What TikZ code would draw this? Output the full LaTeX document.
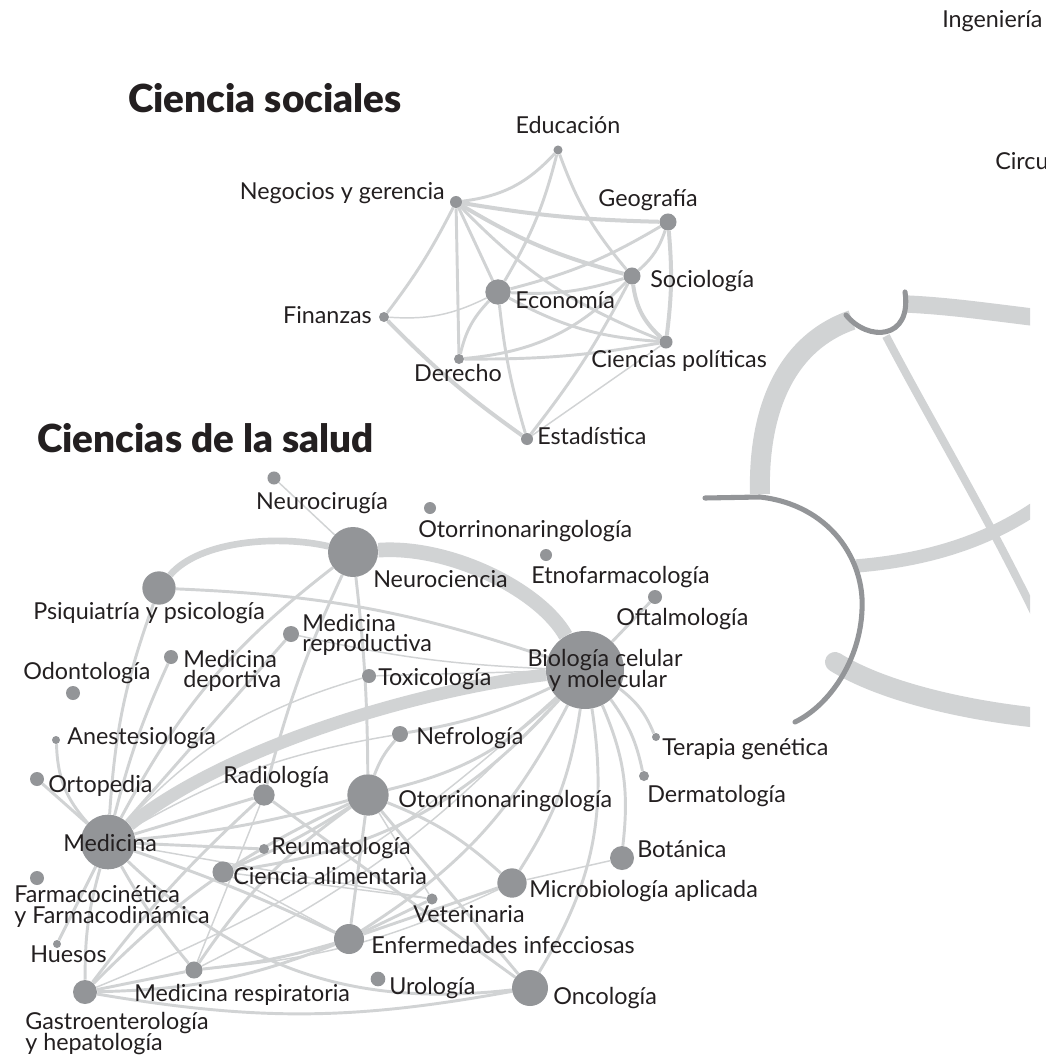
\documentclass[tikz,border=0pt]{standalone}
\usepackage{fontspec}
\setmainfont{Lato}
\newfontfamily\heavyfont{Lato Black}
\usetikzlibrary{backgrounds}
\definecolor{vtxgray}{HTML}{939598}
\definecolor{lnkgray}{HTML}{D1D3D4}
\definecolor{ink}{HTML}{231F20}
\tikzset{
  vtx/.style={circle,fill=vtxgray,inner sep=0pt,minimum size=#1},
  lnk/.style={draw=lnkgray,line width=2.2pt},
  thinlnk/.style={draw=lnkgray,line width=1.1pt},
  band/.style={draw=lnkgray,line width=#1},
  rimarc/.style={draw=vtxgray,line width=3.8pt,line cap=round},
  lbl/.style={font=\fontsize{17.5}{17.5}\selectfont,text=ink,inner sep=0pt},
  ttl/.style={font=\fontsize{29}{29}\selectfont\heavyfont,text=ink,inner sep=0pt},
}

\begin{document}
\begin{tikzpicture}[x=0.75pt,y=-0.75pt]
  \useasboundingbox (0,0) rectangle (1045,1059);
  \clip (0,0) rectangle (1045,1059);

  % titles
  \node[ttl,anchor=base west] (tSoc) at (128,113) {Ciencia sociales};
  \node[ttl,anchor=base west] (tSalud) at (37,452) {Ciencias de la salud};

  % social sciences
  \node[vtx=6.8pt] (edu) at (558,150) {};
  \node[vtx=9pt] (neg) at (456,202) {};
  \node[vtx=12.8pt] (geo) at (668,222) {};
  \node[vtx=12.8pt] (soc) at (632,276) {};
  \node[vtx=19pt] (eco) at (498,292) {};
  \node[vtx=7.5pt] (fin) at (384,317) {};
  \node[vtx=7.5pt] (der) at (459,359) {};
  \node[vtx=9.8pt] (cp) at (666,342) {};
  \node[vtx=9pt] (est) at (527,439) {};

  % health sciences
  \node[vtx=9.8pt] (neurocir) at (274,478) {};
  \node[vtx=37.5pt] (neuro) at (353,552) {};
  \node[vtx=25pt] (psiq) at (159,588) {};
  \node[vtx=9pt] (otoA) at (430,508) {};
  \node[vtx=9pt] (etno) at (546,555) {};
  \node[vtx=10.5pt] (oftal) at (655,597) {};
  \node[vtx=12pt] (medrep) at (291,634) {};
  \node[vtx=10.5pt] (meddep) at (171,657) {};
  \node[vtx=10.5pt] (odonto) at (73,693) {};
  \node[vtx=10.5pt] (tox) at (369,676) {};
  \node[vtx=58.5pt] (bio) at (585,670) {};
  \node[vtx=6pt] (anest) at (56,740) {};
  \node[vtx=12pt] (nefro) at (400,734) {};
  \node[vtx=6pt] (terapia) at (656,737) {};
  \node[vtx=10.5pt] (orto) at (37,779) {};
  \node[vtx=16pt] (radio) at (264,795) {};
  \node[vtx=31pt] (otorrino) at (368,795) {};
  \node[vtx=7.5pt] (derma) at (644,776) {};
  \node[vtx=41pt] (medicina) at (108,842) {};
  \node[vtx=7.5pt] (reuma) at (264,849) {};
  \node[vtx=18pt] (botanica) at (622,858) {};
  \node[vtx=15.8pt] (cienciaal) at (223,872) {};
  \node[vtx=10.5pt] (farmaco) at (37,878) {};
  \node[vtx=22pt] (microbio) at (512,883) {};
  \node[vtx=8.3pt] (veter) at (432,899) {};
  \node[vtx=22.5pt] (enferm) at (349,939) {};
  \node[vtx=6pt] (huesos) at (57,944) {};
  \node[vtx=12.8pt] (medresp) at (194,970) {};
  \node[vtx=11pt] (urolog) at (378,979) {};
  \node[vtx=18pt] (gastro) at (85,992) {};
  \node[vtx=27pt] (onco) at (530,988) {};

  \begin{pgfonlayer}{background}
    % social links
    \draw[lnk] (neg) to[bend right=20] (edu);
    \draw[lnk,line width=3pt] (neg) to[bend right=4] (geo);
    \draw[lnk,line width=3pt] (neg) to[bend right=8] (soc);
    \draw[lnk] (neg) to[bend right=12] (cp);
    \draw[lnk] (neg) -- (eco);
    \draw[lnk] (neg) -- (der);
    \draw[lnk] (neg) to[bend left=5] (fin);
    \draw[lnk] (edu) to[bend left=8] (eco);
    \draw[lnk] (edu) to[bend right=10] (soc);
    \draw[lnk] (geo) to[bend left=8] (eco);
    \draw[lnk] (geo) to[bend left=15] (soc);
    \draw[lnk,line width=3pt] (geo) to[bend left=6] (cp);
    \draw[lnk] (soc) to[bend left=10] (eco);
    \draw[lnk,line width=3pt] (soc) to[bend right=20] (cp);
    \draw[lnk] (soc) to[bend left=20] (der);
    \draw[lnk] (soc) to[bend left=5] (est);
    \draw[thinlnk] (eco) to[bend left=15] (fin);
    \draw[lnk] (eco) to[bend right=15] (der);
    \draw[lnk] (eco) to[bend right=5] (est);
    \draw[lnk] (eco) to[bend right=12] (cp);
    \draw[lnk,line width=3pt] (fin) to[bend right=5] (est);
    \draw[lnk] (der) to[bend right=5] (cp);
    \draw[thinlnk] (cp) -- (est);

    % health links
    \draw[band=9.5pt] (medicina) .. controls (230,745) and (420,690) .. (bio);
    \draw[band=11pt] (neuro) .. controls (450,545) and (540,590) .. (bio);
    \draw[band=5pt] (psiq) .. controls (200,540) and (280,535) .. (neuro);
    \draw[thinlnk] (neurocir) -- (neuro);
    \draw[lnk] (psiq) to[bend left=8] (bio);
    \draw[lnk] (psiq) to[bend right=8] (medicina);
    \draw[lnk] (neuro) to[bend right=12] (medicina);
    \draw[lnk] (neuro) to[bend right=5] (radio);
    \draw[lnk] (neuro) to[bend left=3] (otorrino);
    \draw[lnk] (meddep) to[bend right=5] (medicina);
    \draw[lnk] (medrep) -- (medicina);
    \draw[thinlnk] (medrep) to[bend right=5] (bio);
    \draw[lnk] (anest) to[bend right=20] (medicina);
    \draw[lnk] (orto) -- (medicina);
    \draw[thinlnk] (tox) to[bend right=15] (medicina);
    \draw[thinlnk] (tox) -- (bio);
    \draw[thinlnk] (nefro) to[bend right=10] (medicina);
    \draw[lnk] (nefro) to[bend right=8] (bio);
    \draw[lnk] (otorrino) to[bend left=10] (nefro);
    \draw[lnk] (radio) -- (medicina);
    \draw[lnk] (otorrino) to[bend left=5] (medicina);
    \draw[lnk] (reuma) -- (medicina);
    \draw[lnk] (huesos) -- (medicina);
    \draw[lnk] (gastro) to[bend left=8] (medicina);
    \draw[lnk] (medresp) to[bend left=5] (medicina);
    \draw[lnk] (medicina) to[bend left=3] (enferm);
    \draw[lnk] (medicina) to[bend right=25] (onco);
    \draw[thinlnk] (medicina) -- (veter);
    \draw[lnk] (bio) -- (oftal);
    \draw[lnk] (bio) to[bend left=15] (terapia);
    \draw[lnk] (bio) to[bend left=12] (derma);
    \draw[lnk] (bio) to[bend left=15] (botanica);
    \draw[lnk] (bio) to[bend left=20] (onco);
    \draw[lnk] (bio) to[bend left=12] (microbio);
    \draw[lnk] (bio) to[bend left=15] (enferm);
    \draw[lnk] (bio) to[bend left=20] (cienciaal);
    \draw[lnk] (bio) to[bend left=15] (otorrino);
    \draw[thinlnk] (bio) to[bend left=10] (medresp);
    \draw[thinlnk] (bio) to[bend left=10] (gastro);
    \draw[lnk] (radio) -- (onco);
    \draw[lnk] (radio) to[bend right=5] (gastro);
    \draw[thinlnk] (radio) -- (medresp);
    \draw[lnk] (otorrino) to[bend left=5] (cienciaal);
    \draw[lnk] (otorrino) -- (enferm);
    \draw[lnk] (otorrino) to[bend right=10] (medresp);
    \draw[lnk] (otorrino) to[bend right=10] (gastro);
    \draw[lnk] (otorrino) to[bend left=10] (microbio);
    \draw[lnk] (otorrino) -- (onco);
    \draw[thinlnk] (otorrino) -- (veter);
    \draw[lnk] (enferm) -- (microbio);
    \draw[lnk] (enferm) -- (veter);
    \draw[thinlnk] (enferm) -- (cienciaal);
    \draw[lnk] (enferm) to[bend left=10] (gastro);
    \draw[thinlnk] (microbio) -- (botanica);
    \draw[lnk] (medresp) -- (gastro);
    \draw[lnk] (medresp) to[bend right=5] (enferm);
    \draw[thinlnk] (medresp) to[bend right=10] (microbio);
    \draw[lnk] (gastro) to[bend right=10] (onco);
    \draw[thinlnk] (cienciaal) -- (veter);
  \end{pgfonlayer}

  % social labels
  \node[lbl,anchor=base] (tEdu) at (568,134) {Educación};
  \node[lbl,anchor=base east] (tNeg) at (445,200) {Negocios y gerencia};
  \node[lbl,anchor=base] (tGeo) at (648,207) {Geografía};
  \node[lbl,anchor=base west] (tSocio) at (650,287) {Sociología};
  \node[lbl,anchor=base west] (tEco) at (515,308) {Economía};
  \node[lbl,anchor=base east] (tFin) at (372,323) {Finanzas};
  \node[lbl,anchor=base] (tDer) at (458,381) {Derecho};
  \node[lbl,anchor=base west] (tCP) at (591,367) {Ciencias políticas};
  \node[lbl,anchor=base west] (tEst) at (537,444) {Estadística};
  \node[lbl,anchor=base west] (tIng) at (942,28) {Ingeniería};
  \node[lbl,anchor=base west] (tCirc) at (995,170) {Circuitos};

  % health labels
  \node[lbl,anchor=base] (tNeurocir) at (322,509) {Neurocirugía};
  \node[lbl,anchor=base west] (tPsiq) at (33,619) {Psiquiatría y psicología};
  \node[lbl,anchor=base west] (tOtoA) at (418,537) {Otorrinonaringología};
  \node[lbl,anchor=base west] (tNeuro) at (373,587) {Neurociencia};
  \node[lbl,anchor=base west] (tEtno) at (531,583) {Etnofarmacología};
  \node[lbl,anchor=base west] (tOftal) at (616,625) {Oftalmología};
  \node[lbl,anchor=base west] (tMedRepA) at (302,631) {Medicina};
  \node[lbl,anchor=base west] (tMedRepB) at (302,651) {reproductiva};
  \node[lbl,anchor=base west] (tMedDepA) at (183,667) {Medicina};
  \node[lbl,anchor=base west] (tMedDepB) at (183,687) {deportiva};
  \node[lbl,anchor=base west] (tOdonto) at (23,679) {Odontología};
  \node[lbl,anchor=base west] (tTox) at (378,685) {Toxicología};
  \node[lbl,anchor=base] (tBioA) at (605,666) {Biología celular};
  \node[lbl,anchor=base] (tBioB) at (608,687) {y molecular};
  \node[lbl,anchor=base west] (tAnest) at (67,744) {Anestesiología};
  \node[lbl,anchor=base west] (tNefro) at (416,744) {Nefrología};
  \node[lbl,anchor=base west] (tTerapia) at (662,755) {Terapia genética};
  \node[lbl,anchor=base west] (tOrto) at (48,792) {Ortopedia};
  \node[lbl,anchor=base west] (tRadio) at (223,783) {Radiología};
  \node[lbl,anchor=base west] (tOtorrino) at (398,807) {Otorrinonaringología};
  \node[lbl,anchor=base west] (tDerma) at (647,802) {Dermatología};
  \node[lbl,anchor=base west] (tMedicina) at (63,851) {Medicina};
  \node[lbl,anchor=base west] (tReuma) at (271,854) {Reumatología};
  \node[lbl,anchor=base west] (tBotanica) at (637,857) {Botánica};
  \node[lbl,anchor=base west] (tCienciaAl) at (233,884) {Ciencia alimentaria};
  \node[lbl,anchor=base west] (tMicrobio) at (529,897) {Microbiología aplicada};
  \node[lbl,anchor=base west] (tFarmacoA) at (14,902) {Farmacocinética};
  \node[lbl,anchor=base west] (tFarmacoB) at (14,923) {y Farmacodinámica};
  \node[lbl,anchor=base west] (tHuesos) at (30,962) {Huesos};
  \node[lbl,anchor=base west] (tVeter) at (413,922) {Veterinaria};
  \node[lbl,anchor=base west] (tEnferm) at (371,953) {Enfermedades infecciosas};
  \node[lbl,anchor=base west] (tUrolog) at (389,994) {Urología};
  \node[lbl,anchor=base west] (tMedResp) at (134,1001) {Medicina respiratoria};
  \node[lbl,anchor=base west] (tOnco) at (553,1004) {Oncología};
  \node[lbl,anchor=base west] (tGastroA) at (25,1029) {Gastroenterología};
  \node[lbl,anchor=base west] (tGastroB) at (25,1050) {y hepatología};

  % partial cluster on the right
  \begin{scope}
    \clip (0,0) rectangle (1030,1059);
    \draw[band=15pt] (852,320) .. controls (780,345) and (758,420) .. (760,494);
    \draw[band=13pt] (906,304) .. controls (950,306) and (990,312) .. (1040,318);
    \draw[band=6pt] (886,336) .. controls (930,420) and (990,520) .. (1040,625);
    \draw[band=10pt] (856,566) .. controls (930,560) and (990,540) .. (1040,505);
    \draw[band=15pt,line cap=round] (835,662) .. controls (880,690) and (960,710) .. (1040,718);
  \end{scope}
  \draw[rimarc] (846,315) .. controls (868,342) and (912,340) .. (905,292);
  \draw[rimarc] (705,498) -- (760,497) .. controls (830,505) and (865,560) .. (862,610)
    .. controls (860,660) and (830,705) .. (795,722);
\end{tikzpicture}
\end{document}
